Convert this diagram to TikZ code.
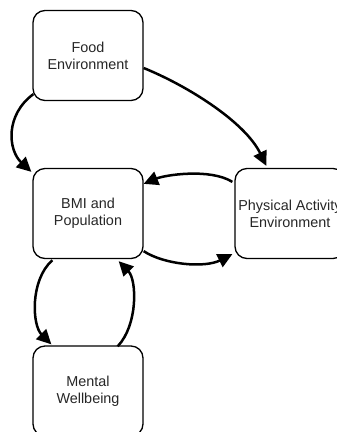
\documentclass[tikz,border=0pt]{standalone}
\usepackage{fontspec}
\setmainfont{Liberation Sans}
\usetikzlibrary{arrows.meta,calc}

\tikzset{
  factor/.style={draw=black, line width=1.3pt, rounded corners=12pt,
    minimum width=110pt, minimum height=90pt, inner sep=1pt,
    align=center, font=\fontsize{14.4}{17}\selectfont, text=black!85},
  link/.style={line width=2.5pt, -{Triangle[length=14.5pt,width=14pt]}}
}

\begin{document}
\begin{tikzpicture}[x=1pt,y=-1pt]
  \useasboundingbox (0,0) rectangle (337,432);
  \clip (0,0) rectangle (337,432);

  % the four factors
  \node[factor] (food)   at (88,55.5)   {Food\\Environment};
  \node[factor] (bmi)    at (88,213.5)  {BMI and\\Population};
  \node[factor] (pa)     at (290,213.5) {Physical Activity\\Environment};
  \node[factor] (mental) at (88,391)    {Mental\\Wellbeing};

  % attachment points on the rounded boxes (y grows downwards)
  \coordinate (f1) at ($(food.south west)+(1,-7)$);
  \coordinate (f2) at ($(food.east)+(0,12.5)$);
  \coordinate (b1) at ($(bmi.north west)+(-1,4)$);
  \coordinate (b2) at ($(bmi.north east)+(0,16)$);
  \coordinate (b3) at ($(bmi.south east)+(0,-8)$);
  \coordinate (b4) at ($(bmi.south west)+(20,1)$);
  \coordinate (b5) at ($(bmi.south east)+(-25,2)$);
  \coordinate (p1) at ($(pa.north west)+(32,-2)$);
  \coordinate (p2) at ($(pa.north west)+(-2,14)$);
  \coordinate (p3) at ($(pa.south west)+(-2,-5)$);
  \coordinate (m1) at ($(mental.north west)+(19,-1)$);
  \coordinate (m2) at ($(mental.north east)+(-26,1)$);

  % influences
  \draw[link] (f1) .. controls (5,115) and (8,150) .. (b1);
  \draw[link] (f2) .. controls (188,86) and (245,122) .. (p1);
  \draw[link] (p2) .. controls (210,168) and (165,175) .. (b2);
  \draw[link] (b3) .. controls (165,265) and (205,268) .. (p3);
  \draw[link] (b4) .. controls (30,280) and (32,325) .. (m1);
  \draw[link] (m2) .. controls (138,325) and (137,280) .. (b5);
\end{tikzpicture}
\end{document}
